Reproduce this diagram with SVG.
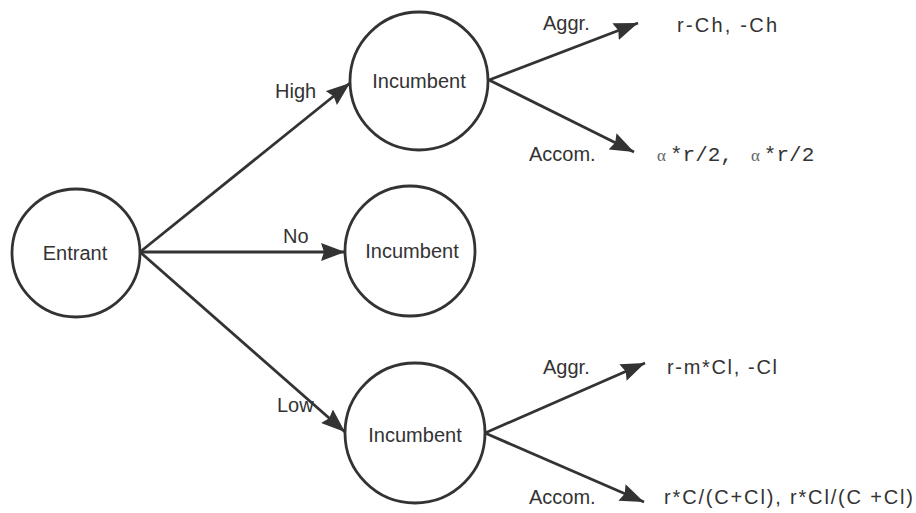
<svg xmlns="http://www.w3.org/2000/svg" width="916" height="513" viewBox="0 0 916 513">
  <style>
    .node circle { fill: #ffffff; stroke: #333333; stroke-width: 2.8; }
    .lbl { font-family: "Liberation Sans", Arial, sans-serif; font-size: 20px; fill: #333333; }
    .edge { stroke: #333333; stroke-width: 2.8; fill: none; marker-end: url(#arrow); }
    .serif { font-family: "Liberation Serif", serif; }
    .mono { font-family: "Liberation Mono", monospace; }
  </style>
  <defs>
    <marker id="arrow" markerUnits="userSpaceOnUse" markerWidth="26" markerHeight="18" refX="24" refY="9" orient="auto">
      <path d="M0,0 L24,9 L0,18 L3,9 Z" fill="#333333"/>
    </marker>
  </defs>
  <rect width="916" height="513" fill="#ffffff"/>

  <!-- connectors -->
  <g id="edges">
    <line class="edge" x1="140" y1="252" x2="350" y2="83"/>
    <line class="edge" x1="140" y1="252" x2="345" y2="252"/>
    <line class="edge" x1="140" y1="252" x2="345" y2="432"/>
    <line class="edge" x1="489" y1="80" x2="638" y2="23"/>
    <line class="edge" x1="489" y1="80" x2="634" y2="152"/>
    <line class="edge" x1="485" y1="433" x2="645" y2="363"/>
    <line class="edge" x1="485" y1="433" x2="644" y2="502"/>
  </g>

  <!-- edge labels -->
  <g id="edge-labels" class="lbl">
    <text x="275" y="98">High</text>
    <text x="283" y="243">No</text>
    <text x="277" y="412">Low</text>
    <text x="543" y="30">Aggr.</text>
    <text x="529" y="161">Accom.</text>
    <text x="543" y="374">Aggr.</text>
    <text x="529" y="504">Accom.</text>
  </g>

  <!-- nodes -->
  <g id="entrant" class="node">
    <circle cx="76" cy="253" r="64"/>
    <text class="lbl" x="75" y="260" text-anchor="middle">Entrant</text>
  </g>
  <g id="incumbent-high" class="node">
    <circle cx="419" cy="81" r="69"/>
    <text class="lbl" x="419" y="88" text-anchor="middle">Incumbent</text>
  </g>
  <g id="incumbent-no" class="node">
    <circle cx="410" cy="251" r="65"/>
    <text class="lbl" x="412" y="258" text-anchor="middle">Incumbent</text>
  </g>
  <g id="incumbent-low" class="node">
    <circle cx="415" cy="433" r="70"/>
    <text class="lbl" x="415" y="442" text-anchor="middle">Incumbent</text>
  </g>

  <!-- payoffs -->
  <g id="payoffs" class="lbl">
    <text x="677" y="32" textLength="100" lengthAdjust="spacing">r-Ch, -Ch</text>
    <text x="657" y="161"><tspan class="serif" font-size="17" fill="#666666">α</tspan><tspan class="mono" font-size="21" dx="4">*r/2,</tspan><tspan class="serif" font-size="17" fill="#666666" dx="18">α</tspan><tspan class="mono" font-size="21" dx="4">*r/2</tspan></text>
    <text x="667" y="374" textLength="110" lengthAdjust="spacing">r-m*Cl, -Cl</text>
    <text x="664" y="504" textLength="249" lengthAdjust="spacing">r*C/(C+Cl), r*Cl/(C +Cl)</text>
  </g>
</svg>
